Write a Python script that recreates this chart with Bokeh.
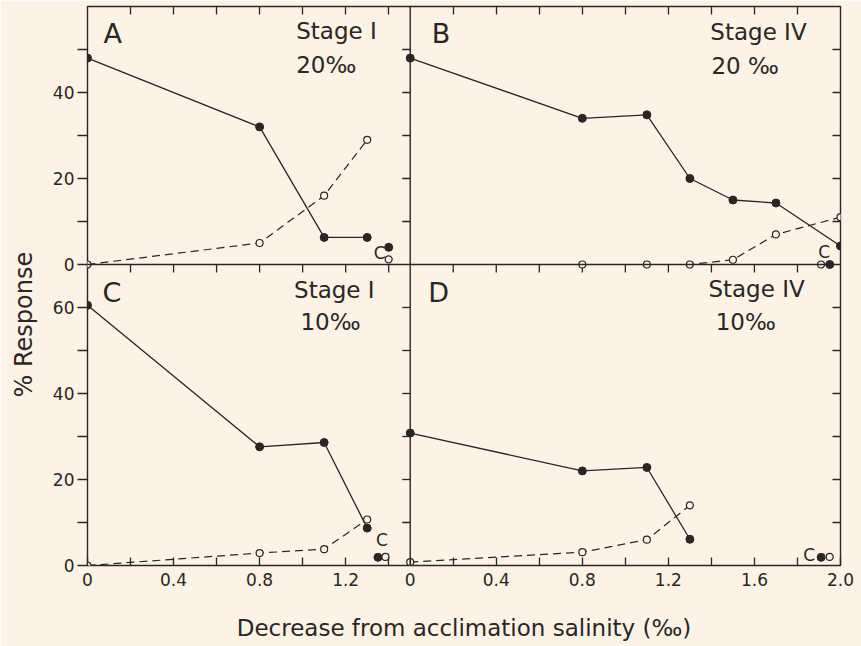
import math
from bokeh.plotting import figure
from bokeh.models import Range1d, LinearAxis, FixedTicker, Span, Title
from bokeh.embed import file_html
from bokeh.resources import INLINE
from bokeh.core.properties import value

BG = "#fcf3e6"
INK = "#2b2523"
FONT = "DejaVu Sans"

# ---------------- data ----------------
conc = [0, 0.8, 1.1, 1.3]

a_filled = [48, 32, 6.3, 6.3]
a_open = [0, 5, 16, 29]
a_ctrl_x_filled = [1.4]
a_ctrl_filled = [4.0]
a_ctrl_x_open = [1.4]
a_ctrl_open = [1.2]

b_x_filled = [0, 0.8, 1.1, 1.3, 1.5, 1.7, 2.0]
b_filled = [48, 34, 34.8, 20, 15, 14.3, 4.3]
b_x_open = [0.8, 1.1, 1.3, 1.5, 1.7, 2.0]
b_open = [0, 0, 0, 1.1, 7, 11]
b_ctrl_x_filled = [1.95]
b_ctrl_filled = [0]
b_ctrl_x_open = [1.91]
b_ctrl_open = [0]

c_filled = [60.5, 27.6, 28.6, 8.7]
c_open = [0, 2.9, 3.8, 10.7]
c_ctrl_x_filled = [1.35]
c_ctrl_filled = [1.9]
c_ctrl_x_open = [1.385]
c_ctrl_open = [2.0]

d_filled = [30.8, 22, 22.8, 6.1]
d_open = [0.8, 3.1, 6, 14]
d_ctrl_x_filled = [1.91]
d_ctrl_filled = [1.9]
d_ctrl_x_open = [1.95]
d_ctrl_open = [2.0]

# panel extents and ticks
LEFT_XMAX, RIGHT_XMAX = 1.5, 2.0
TOP_YMAX, BOT_YMAX = 60, 70
x_major_left = [0, 0.4, 0.8, 1.2]
x_minor_left = [0.2, 0.6, 1.0, 1.4]
x_labels_left = ["0", "0.4", "0.8", "1.2"]
x_major_right = [0, 0.4, 0.8, 1.2, 1.6, 2.0]
x_minor_right = [0.2, 0.6, 1.0, 1.4, 1.8]
x_labels_right = ["0", "0.4", "0.8", "1.2", "1.6", "2.0"]
y_major_top = [0, 20, 40]
y_minor_top = [10, 30, 50]
y_labels_top = ["0", "20", "40"]
y_major_bot = [0, 20, 40, 60]
y_minor_bot = [10, 30, 50]
y_labels_bot = ["0", "20", "40", "60"]

# ---------------- figure: one frame, four panels via extra ranges ----------------
p = figure(width=861, height=646,
           x_range=Range1d(0, LEFT_XMAX + RIGHT_XMAX),
           y_range=Range1d(-BOT_YMAX, TOP_YMAX),
           x_axis_type=None, y_axis_type=None,
           toolbar_location=None, output_backend="svg",
           min_border_left=87, min_border_right=21,
           min_border_top=6, min_border_bottom=81)
p.extra_x_ranges = {"right": Range1d(-LEFT_XMAX, RIGHT_XMAX)}
p.extra_y_ranges = {"bot": Range1d(0, BOT_YMAX + TOP_YMAX)}
p.background_fill_color = BG
p.border_fill_color = BG
p.outline_line_color = INK
p.outline_line_width = 1.4

# tick positions in the shared (default) coordinates
xb_major = x_major_left + [LEFT_XMAX + t for t in x_major_right]
xb_minor = x_minor_left + [LEFT_XMAX + t for t in x_minor_right]
xb_labels = x_labels_left + x_labels_right
x_inner = [t for t in sorted(x_major_left + x_minor_left) if 0 < t < LEFT_XMAX] + \
          [LEFT_XMAX + t for t in sorted(x_major_right + x_minor_right) if 0 < t < RIGHT_XMAX]
yl_major = y_major_top + [t - BOT_YMAX for t in y_major_bot]
yl_minor = y_minor_top + [t - BOT_YMAX for t in y_minor_bot]
yl_labels = y_labels_top + y_labels_bot
y_inner = [t for t in sorted(y_major_top + y_minor_top) if 0 < t < TOP_YMAX] + \
          [t - BOT_YMAX for t in sorted(y_major_bot + y_minor_bot) if 0 < t < BOT_YMAX]

TICK = dict(major_tick_line_color=INK, minor_tick_line_color=INK,
            major_tick_line_width=1.3, minor_tick_line_width=1.3, axis_line_color=None)
LABEL = dict(major_label_text_font=FONT, major_label_text_font_size="17px",
             major_label_text_color=INK)

left_ax = LinearAxis(ticker=FixedTicker(ticks=yl_major, minor_ticks=yl_minor),
                     major_tick_in=0, major_tick_out=10, minor_tick_in=0, minor_tick_out=10,
                     major_label_standoff=3,
                     major_label_overrides=dict(zip(yl_major, yl_labels)), **TICK, **LABEL)
p.add_layout(left_ax, "left")

bottom_ax = LinearAxis(ticker=FixedTicker(ticks=xb_major, minor_ticks=xb_minor),
                       major_tick_in=8, major_tick_out=0, minor_tick_in=8, minor_tick_out=0,
                       major_label_standoff=7,
                       major_label_overrides=dict(zip(xb_major, xb_labels)),
                       axis_label="Decrease from acclimation salinity (‰)",
                       axis_label_text_font=FONT, axis_label_text_font_size="23px",
                       axis_label_text_font_style="normal", axis_label_text_color=INK,
                       axis_label_standoff=26, **TICK, **LABEL)
p.add_layout(bottom_ax, "below")

top_ax = LinearAxis(ticker=FixedTicker(ticks=[], minor_ticks=x_inner),
                    major_tick_in=0, major_tick_out=0, minor_tick_in=8, minor_tick_out=0,
                    major_label_standoff=0, **TICK)
p.add_layout(top_ax, "above")

right_ax = LinearAxis(ticker=FixedTicker(ticks=[], minor_ticks=y_inner),
                      major_tick_in=0, major_tick_out=0, minor_tick_in=8, minor_tick_out=0,
                      major_label_standoff=0, **TICK)
p.add_layout(right_ax, "right")

# y-axis title spanning both rows (placed outside the left axis)
p.add_layout(Title(text="% Response", align="left", offset=168, standoff=19,
                   vertical_align="top",
                   text_font=FONT, text_font_size="24px", text_font_style="normal",
                   text_color=INK), "left")

# panel dividers and their ticks
p.add_layout(Span(location=LEFT_XMAX, dimension="height", line_color=INK, line_width=1.4))
p.add_layout(Span(location=0, dimension="width", line_color=INK, line_width=1.4))
p.ray(x=[LEFT_XMAX] * len(y_inner), y=y_inner, length=8, length_units="screen",
      angle=math.pi, line_color=INK, line_width=1.3)
p.ray(x=x_inner, y=[0] * len(x_inner), length=8, length_units="screen",
      angle=-math.pi / 2, line_color=INK, line_width=1.3)


def series(xr, yr, xf, yf, xo, yo, cxf, cyf, cxo, cyo):
    kw = dict(x_range_name=xr, y_range_name=yr)
    p.line(xo, yo, line_color=INK, line_width=1.2, line_dash="8 5", **kw)
    p.line(xf, yf, line_color=INK, line_width=1.3, **kw)
    p.scatter(xf, yf, marker="circle", size=8, fill_color=INK, line_color=INK, **kw)
    p.scatter(xo, yo, marker="circle", size=7, fill_color=BG, line_color=INK, line_width=1.2, **kw)
    p.scatter(cxf, cyf, marker="circle", size=8, fill_color=INK, line_color=INK, **kw)
    p.scatter(cxo, cyo, marker="circle", size=7, fill_color=BG, line_color=INK, line_width=1.2, **kw)


def texts(xr, yr, xs, ys, txt, size, align="left", baseline="middle", xo=0, yo=0):
    p.text(x=xs, y=ys, text=txt, text_font=value(FONT), text_font_size=size,
           text_color=INK, text_align=align, text_baseline=baseline,
           x_offset=xo, y_offset=yo, x_range_name=xr, y_range_name=yr)


# panel A (top-left)
series("default", "default", conc, a_filled, conc, a_open,
       a_ctrl_x_filled, a_ctrl_filled, a_ctrl_x_open, a_ctrl_open)
texts("default", "default", a_ctrl_x_open, a_ctrl_open, ["C"], "17px", align="right", xo=-3, yo=-6)
texts("default", "default", [0.074], [57.3], ["A"], "27px", baseline="top")
texts("default", "default", [0.97, 0.97], [54.3, 46.3], ["Stage I", "20‰"], "23px")

# panel B (top-right)
series("right", "default", b_x_filled, b_filled, b_x_open, b_open,
       b_ctrl_x_filled, b_ctrl_filled, b_ctrl_x_open, b_ctrl_open)
texts("right", "default", b_ctrl_x_open, b_ctrl_open, ["C"], "17px", align="center", xo=3, yo=-13)
texts("right", "default", [0.10], [57.3], ["B"], "27px", baseline="top")
texts("right", "default", [1.395, 1.40], [54.1, 46.1], ["Stage IV", "20 ‰"], "23px")

# panel C (bottom-left)
series("default", "bot", conc, c_filled, conc, c_open,
       c_ctrl_x_filled, c_ctrl_filled, c_ctrl_x_open, c_ctrl_open)
texts("default", "bot", c_ctrl_x_filled, c_ctrl_filled, ["C"], "17px", align="center", xo=4, yo=-17)
texts("default", "bot", [0.07], [67.0], ["C"], "27px", baseline="top")
texts("default", "bot", [0.96, 0.99], [64.1, 56.6], ["Stage I", "10‰"], "23px")

# panel D (bottom-right)
series("right", "bot", conc, d_filled, conc, d_open,
       d_ctrl_x_filled, d_ctrl_filled, d_ctrl_x_open, d_ctrl_open)
texts("right", "bot", d_ctrl_x_filled, d_ctrl_filled, ["C"], "17px", align="right", xo=-6, yo=-2)
texts("right", "bot", [0.084], [67.0], ["D"], "27px", baseline="top")
texts("right", "bot", [1.386, 1.42], [64.3, 56.6], ["Stage IV", "10‰"], "23px")

open("out.html", "w").write(file_html(p, INLINE))
